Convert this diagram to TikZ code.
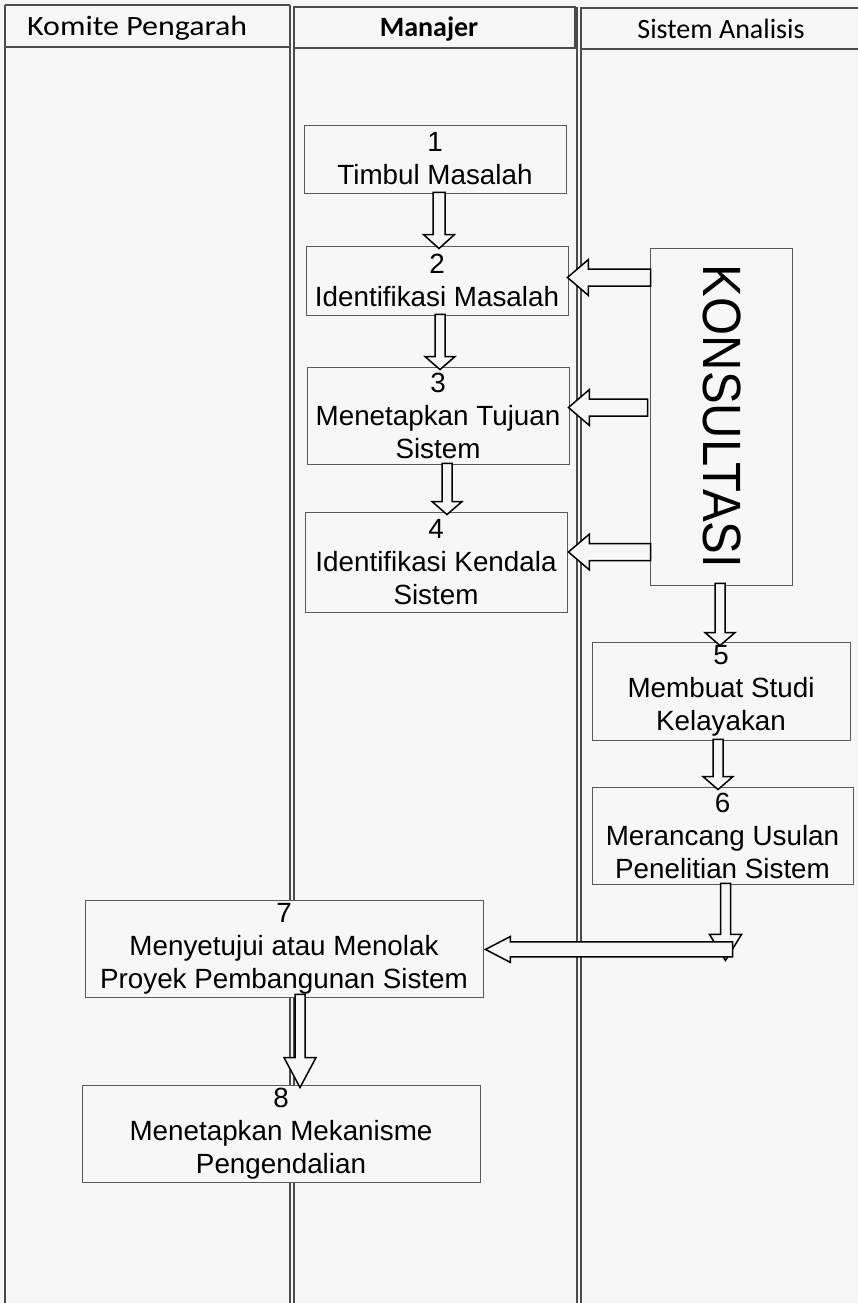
\documentclass[tikz,border=0pt]{standalone}
\usepackage{fontspec}
\usepackage{graphicx}
\usetikzlibrary{calc}
\setmainfont{Liberation Sans}
\newfontfamily\headfont{Carlito}
\definecolor{bgc}{HTML}{F7F7F7}
% hollow block arrow pointing down: start, tip, shaft half width, head half width, head length
\newcommand{\blkdown}[5]{%
  \draw[blk] let \p1=(#1), \p2=(#2) in
    ({\x1-#3pt},\y1) -- ({\x1+#3pt},\y1) -- ({\x1+#3pt},{\y2+#5pt})
    -- ({\x1+#4pt},{\y2+#5pt}) -- (\x1,\y2) -- ({\x1-#4pt},{\y2+#5pt})
    -- ({\x1-#3pt},{\y2+#5pt}) -- cycle;}
% hollow block arrow pointing left: start, tip, shaft half height, head half height, head length
\newcommand{\blkleft}[5]{%
  \draw[blk] let \p1=(#1), \p2=(#2) in
    (\x1,{\y1-#3pt}) -- (\x1,{\y1+#3pt}) -- ({\x2+#5pt},{\y1+#3pt})
    -- ({\x2+#5pt},{\y1+#4pt}) -- (\x2,\y1) -- ({\x2+#5pt},{\y1-#4pt})
    -- ({\x2+#5pt},{\y1-#3pt}) -- cycle;}
\begin{document}
\begin{tikzpicture}[x=1pt,y=-1pt,
  lane/.style={draw=black!70, line width=1.1pt},
  headbox/.style={draw=black!70, line width=1.2pt},
  headtext/.style={font=\headfont\fontsize{28}{30}\selectfont, inner sep=0pt},
  procbox/.style={draw=black!65, line width=0.9pt, fill=bgc},
  boxtext/.style={font=\fontsize{27.8}{33}\selectfont, align=center, text=black},
  blk/.style={draw=black, line width=1.5pt, fill=bgc, line join=miter}
]
\useasboundingbox (0,0) rectangle (858,1303);
\fill[bgc] (0,0) rectangle (858,1303);

% swimlane frame and headers
\draw[lane] (5,5) -- (5,1303);
\draw[lane] (290,5) -- (290,1303);
\draw[lane] (294,7) -- (294,1303);
\draw[lane] (577,7) -- (577,1303);
\draw[lane] (581,8) -- (581,1303);
\draw[headbox] (5,5) -- (290,5) (5,47) -- (290,47);
\draw[headbox] (294,7) rectangle (575,48);
\draw[headbox] (858,8) -- (581,8) -- (581,49) -- (858,49);
\node[headtext, anchor=west] (hk) at (27,28) {\scalebox{1.14}[1]{Komite Pengarah}};
\node[headtext, font=\headfont\bfseries\fontsize{28}{30}\selectfont] (hm) at (429,29) {Manajer};
\node[headtext] (hs) at (721,29) {Sistem Analisis};

% process boxes
\node[procbox, minimum width=262, minimum height=68] (b1) at (435,159) {};
\node[boxtext] (t1) at (b1) {1\\Timbul Masalah};
\node[procbox, minimum width=262, minimum height=69] (b2) at (437,280.5) {};
\node[boxtext] (t2) at (b2) {2\\Identifikasi Masalah};
\node[procbox, minimum width=262, minimum height=97] (b3) at (438,415.5) {};
\node[boxtext] (t3) at (b3) {3\\Menetapkan Tujuan\\Sistem};
\node[procbox, minimum width=262, minimum height=100] (b4) at (436,562) {};
\node[boxtext] (t4) at (b4) {4\\Identifikasi Kendala\\Sistem};
\node[procbox, minimum width=142, minimum height=337] (kons) at (721,416.5) {};
\node[font=\fontsize{49}{49}\selectfont, rotate=-90, yscale=1.1] (tk) at ($(kons)+(1,0)$) {KONSULTASI};
\node[procbox, minimum width=258, minimum height=98] (b5) at (721,691) {};
\node[boxtext] (t5) at (b5) {5\\Membuat Studi\\Kelayakan};
\node[procbox, minimum width=261, minimum height=97] (b6) at (722.5,835.5) {};
\node[boxtext] (t6) at (b6) {6\\Merancang Usulan\\Penelitian Sistem};
\node[procbox, minimum width=398, minimum height=97] (b7) at (284,948.5) {};
\node[boxtext] (t7) at (b7) {7\\Menyetujui atau Menolak\\Proyek Pembangunan Sistem};
\node[procbox, minimum width=398, minimum height=97] (b8) at (281,1133.5) {};
\node[boxtext] (t8) at (b8) {8\\Menetapkan Mekanisme\\Pengendalian};

% flow arrows inside the Manajer lane
\blkdown{$(b1.south)+(4,-1)$}{$(b2.north)+(4,3)$}{6}{15.5}{14}
\blkdown{$(b2.south)+(3,-1)$}{$(b3.north)+(3,3)$}{5}{15}{13}
\blkdown{$(b3.south)+(9,-1)$}{$(b4.north)+(9,3)$}{5}{15}{13}

% consultation arrows
\blkleft{$(kons.west |- b2)+(1,-3)$}{$(b2.east)+(-1,-3)$}{8.5}{18}{21}
\blkleft{$(kons.west |- b3)+(-2,-8)$}{$(b3.east)+(-1,-8)$}{8.5}{18}{21}
\blkleft{$(kons.west |- b4)+(1,-10)$}{$(b4.east)+(1,-10)$}{8.5}{18}{21}

% Sistem Analisis lane
\blkdown{$(kons.south)+(-1,-2)$}{$(b5.north)+(-1,4)$}{5}{15}{13}
\blkdown{$(b5.south)+(-3,-1)$}{$(b6.north)+(-3,3)$}{5}{15}{13}

% proposal goes to the steering committee
\coordinate (turn) at ($(b6.south)+(3,76)$);
\blkdown{$(b6.south)+(3,-1)$}{turn}{5}{16}{26}
\blkleft{$(turn)+(7,-11)$}{$(b7.east)+(2,0)$}{7.5}{13}{25}

% decision leads to control mechanism
\blkdown{$(b7.south)+(16,-3)$}{$(b8.north)+(16,3)$}{5}{16}{30}
\end{tikzpicture}
\end{document}
